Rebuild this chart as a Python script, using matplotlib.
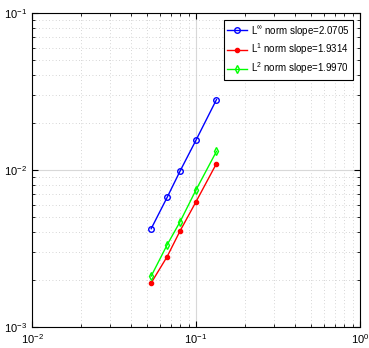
import matplotlib
matplotlib.use("Agg")
import matplotlib.pyplot as plt
from matplotlib.ticker import LogLocator, NullFormatter

# mesh sizes and errors
h = [0.0533, 0.0667, 0.08, 0.1, 0.1333]
err_inf = [0.00423, 0.0067, 0.00986, 0.0155, 0.0281]
err_l1 = [0.00191, 0.00281, 0.0041, 0.00628, 0.0110]
err_l2 = [0.00211, 0.00334, 0.00469, 0.00747, 0.01315]
labels = [r"L$^{\infty}$ norm slope=2.0705",
          r"L$^{1}$ norm slope=1.9314",
          r"L$^{2}$ norm slope=1.9970"]

plt.rcParams['font.family'] = ['Liberation Sans', 'DejaVu Sans']
plt.rcParams['mathtext.fontset'] = 'custom'
plt.rcParams['mathtext.rm'] = 'Liberation Sans'
plt.rcParams['mathtext.it'] = 'Liberation Sans:italic'

fig = plt.figure(figsize=(3.69, 3.48), dpi=100)
ax = fig.add_axes([0.0867, 0.0603, 0.889, 0.9023])

ax.loglog(h, err_inf, color='b', marker='o', mfc='none', ms=4, lw=1, label=labels[0])
ax.loglog(h, err_l1, color='r', marker='o', ms=3, lw=1, label=labels[1])
ax.loglog(h, err_l2, color='#00ff00', marker='d', mfc='none', ms=4, lw=1, label=labels[2])

ax.set_xlim(1e-2, 1)
ax.set_ylim(1e-3, 1e-1)
ax.xaxis.set_major_locator(LogLocator(base=10, numticks=5))
ax.yaxis.set_major_locator(LogLocator(base=10, numticks=5))
ax.xaxis.set_minor_formatter(NullFormatter())
ax.yaxis.set_minor_formatter(NullFormatter())

ax.grid(True, which='major', color='#d8d8d8', lw=0.8, ls='-')
ax.grid(True, which='minor', color='#c8c8c8', lw=0.6, ls=(0, (1, 3)))
ax.set_axisbelow(True)
ax.tick_params(which='both', direction='in', top=True, right=True, labelsize=8)
ax.tick_params(which='major', length=4)
ax.tick_params(which='minor', length=2)
for s in ax.spines.values():
    s.set_linewidth(0.8)

leg = ax.legend(loc='upper right', fontsize=7, fancybox=False, framealpha=1,
                edgecolor='k', borderpad=0.35, handlelength=2.0,
                handletextpad=0.4, labelspacing=0.35, borderaxespad=0.75)
leg.get_frame().set_linewidth(0.8)

fig.savefig("out.png", dpi=100)
